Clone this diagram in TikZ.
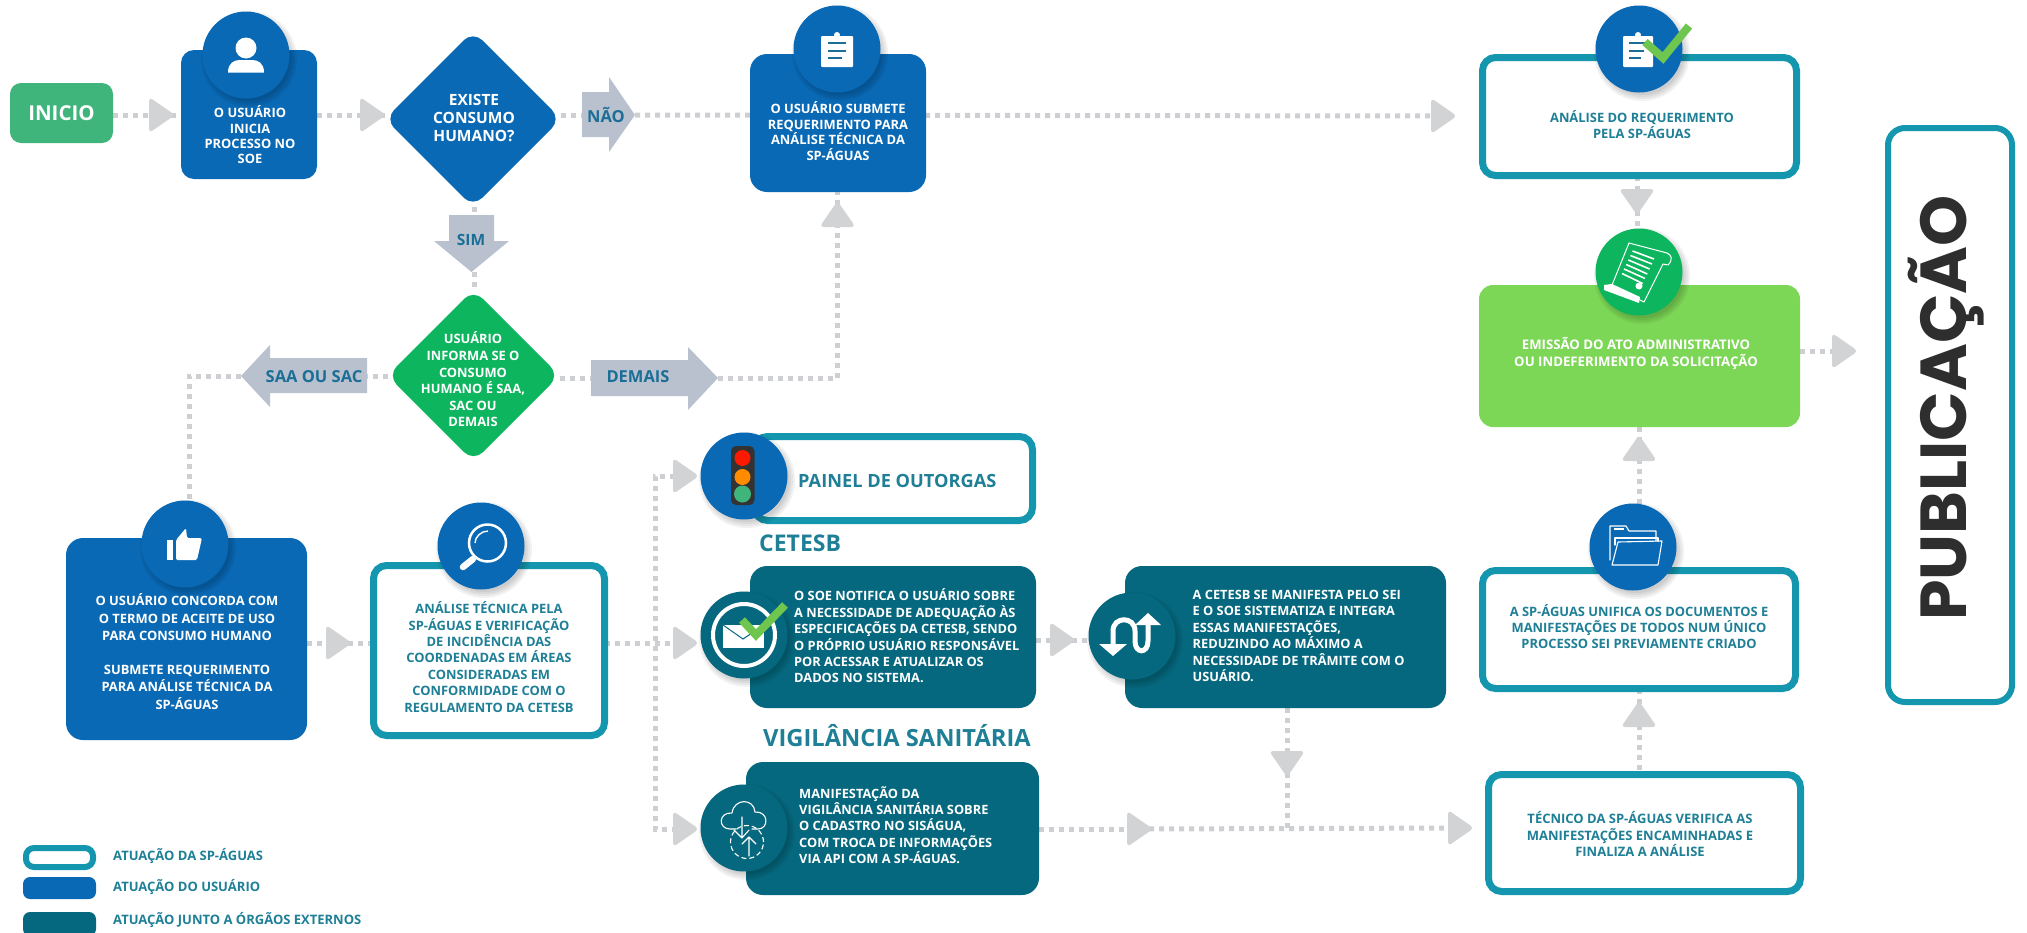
\documentclass[tikz,border=0pt]{standalone}
\usepackage{fontspec}
\setmainfont{Open Sans}
\newfontfamily\titlefont{Poppins}
\usetikzlibrary{shapes.geometric,backgrounds}
\definecolor{ublue}{HTML}{0A69B5}
\definecolor{tealb}{HTML}{1396AE}
\definecolor{dteal}{HTML}{06687E}
\definecolor{lgreen}{HTML}{7DD756}
\definecolor{dgreen}{HTML}{0DB55E}
\definecolor{startgreen}{HTML}{3FB47B}
\definecolor{arrowgray}{HTML}{B9C1CF}
\definecolor{headgray}{HTML}{D2D3D5}
\definecolor{dotgray}{HTML}{CDCFD3}
\definecolor{labelblue}{HTML}{1B6E96}
\definecolor{txtteal}{HTML}{1E7F96}
\definecolor{checkgreen}{HTML}{6FC64E}
\newcommand{\fs}[2]{\fontsize{#1}{#2}\selectfont\bfseries}
\newcommand{\fillbox}[7]{\node[boxshape,fill=#1,rounded corners=#7pt,minimum width={(#5-#3)*1pt},minimum height={(#6-#4)*1pt}] (#2) at ({(#3+#5)/2},{(#4+#6)/2}) {};}
\newcommand{\outbox}[5]{\node[boxshape,draw=tealb,fill=white,line width=7pt,rounded corners=13pt,minimum width={(#4-#2-7)*1pt},minimum height={(#5-#3-7)*1pt}] (#1) at ({(#2+#4)/2},{(#3+#5)/2}) {};}
\newcommand{\badge}[4]{%
 \foreach \s in {1,3,5,7}{\fill[black,opacity=.05] (#2+3,#3+4) circle ({(41+\s)*1pt});}
 \node[circle,fill=#4,minimum size=87pt,inner sep=0pt] (#1) at (#2,#3) {};}
\tikzset{
 boxshape/.style={rectangle,inner sep=0pt,outer sep=0pt},
 dots/.style={draw=dotgray,line width=5pt,dash pattern=on 5pt off 5pt},
 headtri/.pic={\fill[headgray,rounded corners=4pt] (-12,-18) -- (14,0) -- (-12,18) -- cycle;},
 bigarrow/.style={fill=arrowgray},
 diam/.style={diamond,aspect=1,inner sep=0pt,outer sep=0pt,rounded corners=13pt},
 ctext/.style={align=center,inner sep=0pt},
 ltext/.style={align=left,inner sep=0pt,anchor=west},
 wht/.style={text=white},
 tl/.style={text=txtteal},
 arr/.style={text=labelblue,inner sep=0pt},
 ic/.style={fill=white,draw=none},
 icl/.style={draw=white,fill=none,line cap=round,line join=round},
}
\begin{document}
\begin{tikzpicture}[x=1pt,y=-1pt]
\useasboundingbox (0,0) rectangle (2027,932);
% coordinates of the arrow heads
\coordinate (h1) at (161,115);
\coordinate (h2) at (372,115);
\coordinate (h3) at (1443,116);
\coordinate (h4) at (1637,201);
\coordinate (h5) at (1844,351);
\coordinate (h6) at (1639,449);
\coordinate (h7) at (1639,715);
\coordinate (h8) at (1460,828);
\coordinate (h9) at (1062,640);
\coordinate (h10) at (1139,829);
\coordinate (h11) at (1287,763);
\coordinate (h12) at (837.5,215);
\coordinate (h13) at (338,643);
\coordinate (h14) at (685,643);
\coordinate (h15) at (685,476);
\coordinate (h16) at (685,829);
\coordinate (jv) at (655,643);
\coordinate (naotail) at (582,115);
\coordinate (naotip) at (635,115);
\coordinate (simtop) at (474.5,215);
\coordinate (simtip) at (474.5,272);
\coordinate (saatail) at (367,376);
\coordinate (saatip) at (241,376);
\coordinate (demtail) at (591,378);
\coordinate (demtip) at (718,378);
\coordinate (corner1) at (189,376);
\coordinate (corner2) at (837.5,378);
% boxes
\node[boxshape,fill=startgreen,rounded corners=11pt,minimum width=103pt,minimum height=60pt,text=white,font=\fs{20.5}{24}] (inicio) at (61.5,113) {INICIO};
\fillbox{ublue}{user}{181}{50}{317}{179}{13}
\node[diam,fill=ublue,minimum width=176pt,minimum height=176pt] (d1) at (473,119) {};
\fillbox{ublue}{submit}{750}{54}{926}{192}{17}
\outbox{analysis}{1479}{54}{1800}{179}
\fillbox{lgreen}{emit}{1479}{285}{1800}{427}{14}
\node[boxshape,draw=tealb,fill=white,line width=6pt,rounded corners=17pt,minimum width=124pt,minimum height=574pt] (pub) at (1950,415) {};
\node[diam,fill=dgreen,minimum width=172pt,minimum height=172pt] (d2) at (473.5,375.5) {};
\fillbox{ublue}{concord}{66}{538}{307}{740}{17}
\outbox{tecnica}{370}{562}{608}{739}
\outbox{painel}{751}{433}{1036}{524}
\fillbox{dteal}{cet}{750}{566}{1036}{708}{17}
\fillbox{dteal}{cet2}{1125}{566}{1446}{708}{17}
\fillbox{dteal}{vig}{746}{762}{1039}{895}{17}
\outbox{unify}{1479}{567}{1799}{692}
\outbox{tech}{1485}{771}{1804}{895}
% connectors
\begin{scope}[on background layer]
\draw[dots] (h1 -| inicio.east) -- (h1);
\draw[dots] (h1) -- (h1 -| user.west);
\draw[dots] (h2 -| user.east) -- (h2);
\draw[dots] (h2) -- (h2 -| d1.west);
\draw[dots] (naotail -| d1.east) -- (naotail);
\draw[dots] (naotip) -- (h3);
\draw[dots] (analysis.south -| h4) -- (h4);
\draw[dots] (h4) -- (h4 |- emit.north);
\draw[dots] (emit.east |- h5) -- (h5);
\draw[dots] (emit.south -| h6) -- (h6);
\draw[dots] (h6) -- (h6 |- unify.north);
\draw[dots] (unify.south -| h7) -- (h7);
\draw[dots] (h7) -- (h7 |- tech.north);
\draw[dots] (d1.south -| simtop) -- (simtop);
\draw[dots] (simtip) -- (simtip |- d2.north);
\draw[dots] (d2.west |- saatail) -- (saatail);
\draw[dots] (saatip) -- (corner1) -- (corner1 |- concord.north);
\draw[dots] (d2.east |- demtail) -- (demtail);
\draw[dots] (demtip) -- (corner2) -- (h12);
\draw[dots] (h12) -- (h12 |- submit.south);
\draw[dots] (concord.east |- h13) -- (h13);
\draw[dots] (h13) -- (h13 -| tecnica.west);
\draw[dots] (tecnica.east |- h14) -- (h14);
\draw[dots] (h15) -- (h15 -| jv) -- (h16 -| jv) -- (h16);
\draw[dots] (cet.east |- h9) -- (h9);
\draw[dots] (h9) -- (h9 -| cet2.west);
\draw[dots] (vig.east |- h10) -- (h10);
\draw[dots] (h10) -- (h8);
\draw[dots] (cet2.south -| h11) -- (h11);
\draw[dots] (h11) -- (h11 |- h10);
\end{scope}
% arrow heads
\pic at (h1) {headtri};
\pic at (h2) {headtri};
\pic at (h3) {headtri};
\pic[rotate=-90] at (h4) {headtri};
\pic at (h5) {headtri};
\pic[rotate=90] at (h6) {headtri};
\pic[rotate=90] at (h7) {headtri};
\pic at (h8) {headtri};
\pic at (h9) {headtri};
\pic at (h10) {headtri};
\pic[rotate=-90] at (h11) {headtri};
\pic[rotate=90] at (h12) {headtri};
\pic at (h13) {headtri};
\pic at (h14) {headtri};
\pic at (h15) {headtri};
\pic at (h16) {headtri};
% labelled arrows
\fill[bigarrow] (582,92) -- (609,92) -- (609,77) -- (635,115) -- (609,152) -- (609,137) -- (582,137) -- cycle;
\node[arr,font=\fs{16.5}{20}] (nao) at (606,115) {NÃO};
\fill[bigarrow] (449,215) -- (494,215) -- (494,241) -- (509,241) -- (471.5,272) -- (434,241) -- (449,241) -- cycle;
\node[arr,font=\fs{15.5}{20}] (sim) at (471,240) {SIM};
\fill[bigarrow] (367,358) -- (270,358) -- (270,345) -- (241,376) -- (270,407) -- (270,393) -- (367,393) -- cycle;
\node[arr,font=\fs{16.5}{20}] (saa) at (314,377) {SAA OU SAC};
\fill[bigarrow] (591,360) -- (688,360) -- (688,347) -- (718,378) -- (688,410) -- (688,396) -- (591,396) -- cycle;
\node[arr,font=\fs{16.5}{20}] (demais) at (638,377) {DEMAIS};
% badges and icons
\badge{buser}{246}{55}{ublue}
\begin{scope}[shift={(246,55)}]
\fill[ic] (0,-7) circle (10.5pt);
\fill[ic] (-18,17.5) .. controls (-18,8) and (-12,5) .. (-6,5) -- (6,5) .. controls (12,5) and (18,8) .. (18,17.5) -- cycle;
\end{scope}
\badge{bsubmit}{837}{49}{ublue}
\begin{scope}[shift={(837,49)}]
\fill[ic,rounded corners=1pt] (-16,-13) -- (16,-13) -- (16,18) -- (-16,18) -- cycle;
\fill[ic] (-7,-13) rectangle (7,-9);
\fill[ic] (0,-14) circle (3pt);
\draw[labelblue,line width=2.5pt] (-9,-6) -- (9,-6) (-9,2) -- (9,2) (-9,9) -- (5,9);
\end{scope}
\badge{banalysis}{1639}{49}{ublue}
\begin{scope}[shift={(1639,49)}]
\fill[ic,rounded corners=1pt] (-16,-13) -- (14,-13) -- (14,18) -- (-16,18) -- cycle;
\fill[ic] (-8,-13) rectangle (6,-9);
\fill[ic] (-1,-14) circle (3pt);
\draw[labelblue,line width=2.5pt] (-10,-6) -- (7,-6) (-10,2) -- (5,2) (-10,9) -- (2,9);
\draw[checkgreen,line width=8pt,line join=miter] (6,-7) -- (24,9) -- (50,-23);
\end{scope}
\badge{bemit}{1639}{272}{dgreen}
\begin{scope}[shift={(1639,272)}]
\draw[icl,line width=1pt] (-10,-29) -- (28,-19) .. controls (33,-17) and (34,-12) .. (29,-7) -- (24,-8) -- (5,30) -- (-3,26);
\draw[icl,line width=1pt] (-10,-29) -- (-27,13);
\foreach \a/\b/\c/\d in {-6.5/-21/15/-13,-8.6/-16.5/13/-8,-10.7/-12/10.6/-3,-12.8/-7.5/8.3/2,-15/-3/6/6.5,-17/1.5/3.7/11.5}{\draw[white,line width=1.6pt] (\a,\b) -- (\c,\d);}
\fill[ic] (-35,13) -- (-27,12) -- (1,25) -- (0,31) -- (-35,18) -- cycle;
\fill[ic] (0,14) circle (3.5pt);
\end{scope}
\badge{bfolder}{1633}{547}{ublue}
\begin{scope}[shift={(1633,547)}]
\draw[icl,line width=1.1pt] (-23,13) -- (-23,-21) -- (-7,-21) -- (-4,-16) -- (23,-16) -- (23,-6);
\draw[icl,line width=1.1pt] (-18,-2) -- (-18,-9) -- (25,-9) -- (25,-6);
\draw[icl,line width=1.1pt] (-21,18) -- (25,18) -- (29,-6) -- (-15,-5) -- cycle;
\fill[ic] (-19,-19) rectangle (-9,-17.5);
\end{scope}
\badge{bconcord}{185}{544}{ublue}
\begin{scope}[shift={(185,544)}]
\fill[ic] (-18,-4) rectangle (-12,16);
\fill[ic,rounded corners=1.5pt] (-9,-4) -- (1,-16) -- (2,-6) -- (17,-6) -- (12,16) -- (-9,16) -- cycle;
\end{scope}
\badge{btecnica}{481}{546}{ublue}
\begin{scope}[shift={(481,546)}]
\draw[white,line width=2.5pt] (6.5,-3) circle (18.5pt);
\draw[white,line width=6.5pt,line cap=round] (-8,13) -- (-18,21);
\draw[white,line width=1.4pt] (-6,-3) .. controls (-6,-9) and (0,-15) .. (7,-15);
\end{scope}
\badge{bpainel}{744}{476}{ublue}
\begin{scope}[shift={(744,476)}]
\fill[black!80,rounded corners=5pt] (-13,-30) rectangle (10.5,29);
\fill[red!80!orange] (-1.5,-18) circle (8pt);
\fill[orange!90!yellow] (-1.5,1) circle (8pt);
\fill[startgreen] (-1.5,18) circle (8.5pt);
\end{scope}
\badge{bcet}{744}{635}{dteal}
\begin{scope}[shift={(744,635)}]
\draw[white,line width=4pt] (0,0) circle (31pt);
\fill[ic] (-21,-10) -- (20,-10) -- (20,13) -- (-21,13) -- cycle;
\draw[dteal,line width=1pt] (-21,-10) -- (-1,4) -- (20,-10);
\draw[checkgreen,line width=8pt,line join=miter] (-2,-15) -- (12,0) -- (41,-30);
\end{scope}
\badge{bcet2}{1132}{636}{dteal}
\begin{scope}[shift={(1132,636)}]
\draw[white,line width=5pt] (-19,8) -- (-19,-5) .. controls (-19,-20) and (3,-20) .. (3,-5) -- (3,5) .. controls (3,18) and (16,18) .. (16,5) -- (16,-12);
\fill[ic] (-33,8) -- (-5,8) -- (-19,20) -- cycle;
\fill[ic] (3,-11) -- (29,-11) -- (16,-23) -- cycle;
\end{scope}
\badge{bvig}{744}{828}{dteal}
\begin{scope}[shift={(744,828)}]
\draw[icl,line width=1.1pt] (-8,1) -- (-14,1) .. controls (-26,1) and (-26,-16) .. (-12,-15) .. controls (-10,-30) and (10,-30) .. (11,-16) .. controls (25,-17) and (25,1) .. (14,1) -- (8,1);
\draw[icl,line width=1.1pt] (-2,-11) -- (-2,10) (-10,2) -- (-2,10) (5,2) -- (-2,10);
\draw[icl,line width=1.1pt] (5,28) -- (5,9) (-2,16) -- (5,9) (12,16) -- (5,9);
\draw[white,line width=1.1pt,dash pattern=on 5pt off 3pt] (3,14) circle (16.5pt);
\end{scope}
% text
\node[ctext,wht,font=\fs{12.9}{15.3}] (tuser) at (250,135) {O USUÁRIO\\INICIA\\PROCESSO NO\\SOE};
\node[ctext,wht,font=\fs{15.5}{18}] (td1) at (474,118) {EXISTE\\CONSUMO\\HUMANO?};
\node[ctext,wht,font=\fs{12.9}{15.4}] (tsubmit) at (838,131) {O USUÁRIO SUBMETE\\REQUERIMENTO PARA\\ANÁLISE TÉCNICA DA\\SP-ÁGUAS};
\node[ctext,tl,font=\fs{12.9}{16}] (tanalysis) at (1642,125) {ANÁLISE DO REQUERIMENTO\\PELA SP-ÁGUAS};
\node[ctext,text=white,font=\fs{13.2}{17}] (temit) at (1636,353) {EMISSÃO DO ATO ADMINISTRATIVO\\OU INDEFERIMENTO DA SOLICITAÇÃO};
\node[ctext,wht,font=\fs{12.9}{16.6}] (td2) at (473,379.5) {USUÁRIO\\INFORMA SE O\\CONSUMO\\HUMANO É SAA,\\SAC OU\\DEMAIS};
\node[ctext,wht,font=\fs{12.9}{17.2}] (tconcord) at (187,651.5) {O USUÁRIO CONCORDA COM\\O TERMO DE ACEITE DE USO\\PARA CONSUMO HUMANO\\[17.2pt]SUBMETE REQUERIMENTO\\PARA ANÁLISE TÉCNICA DA\\SP-ÁGUAS};
\node[ctext,tl,font=\fs{12.9}{16.4}] (ttecnica) at (489,657) {ANÁLISE TÉCNICA PELA\\SP-ÁGUAS E VERIFICAÇÃO\\DE INCIDÊNCIA DAS\\COORDENADAS EM ÁREAS\\CONSIDERADAS EM\\CONFORMIDADE COM O\\REGULAMENTO DA CETESB};
\node[ctext,tl,font=\fs{12.9}{16}] (tunify) at (1639,627) {A SP-ÁGUAS UNIFICA OS DOCUMENTOS E\\MANIFESTAÇÕES DE TODOS NUM ÚNICO\\PROCESSO SEI PREVIAMENTE CRIADO};
\node[ctext,tl,font=\fs{13}{16.5}] (ttech) at (1640,834) {TÉCNICO DA SP-ÁGUAS VERIFICA AS\\MANIFESTAÇÕES ENCAMINHADAS E\\FINALIZA A ANÁLISE};
\node[ltext,wht,font=\fs{12.8}{16.4}] (tcet) at (794,636) {O SOE NOTIFICA O USUÁRIO SOBRE\\A NECESSIDADE DE ADEQUAÇÃO ÀS\\ESPECIFICAÇÕES DA CETESB, SENDO\\O PRÓPRIO USUÁRIO RESPONSÁVEL\\POR ACESSAR E ATUALIZAR OS\\DADOS NO SISTEMA.};
\node[ltext,wht,font=\fs{12.8}{16.5}] (tcet2) at (1192.5,636) {A CETESB SE MANIFESTA PELO SEI\\E O SOE SISTEMATIZA E INTEGRA\\ESSAS MANIFESTAÇÕES,\\REDUZINDO AO MÁXIMO A\\NECESSIDADE DE TRÂMITE COM O\\USUÁRIO.};
\node[ltext,wht,font=\fs{12.8}{16.4}] (tvig) at (799,825) {MANIFESTAÇÃO DA\\VIGILÂNCIA SANITÁRIA SOBRE\\O CADASTRO NO SISÁGUA,\\COM TROCA DE INFORMAÇÕES\\VIA API COM A SP-ÁGUAS.};
\node[ltext,tl,font=\fs{18.2}{24}] (tpainel) at (798,481) {PAINEL DE OUTORGAS};
\node[ltext,tl,font=\fs{23}{28}] (tcetesb) at (759,543) {CETESB};
\node[ltext,tl,font=\fs{23.7}{28}] (tvigil) at (763,736) {VIGILÂNCIA SANITÁRIA};
\node[inner sep=0pt,anchor=base,rotate=90,text=black!82,font=\titlefont\fontsize{65}{65}\selectfont\bfseries] (tpub) at (1966,408) {PUBLICAÇÃO};
% legend
\node[boxshape,draw=tealb,fill=white,line width=6pt,rounded corners=8pt,minimum width=67pt,minimum height=19pt] (leg1) at (59.5,857.5) {};
\fillbox{ublue}{leg2}{23}{877}{96}{899}{7}
\fillbox{dteal}{leg3}{23}{912}{96}{936}{7}
\node[ltext,tl,font=\fs{13}{15}] (tleg1) at (113,856) {ATUAÇÃO DA SP-ÁGUAS};
\node[ltext,tl,font=\fs{13}{15}] (tleg2) at (113,887) {ATUAÇÃO DO USUÁRIO};
\node[ltext,tl,font=\fs{13}{15}] (tleg3) at (113,920) {ATUAÇÃO JUNTO A ÓRGÃOS EXTERNOS};
\end{tikzpicture}
\end{document}
